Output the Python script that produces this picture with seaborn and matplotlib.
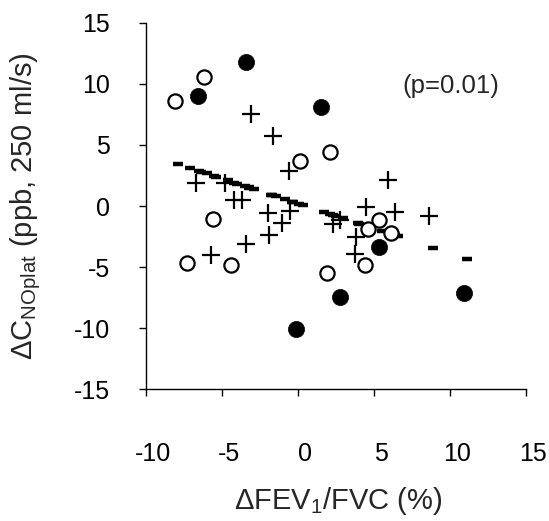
import matplotlib
matplotlib.use("Agg")
import matplotlib.pyplot as plt
import matplotlib.transforms as mtransforms
import seaborn as sns
import pandas as pd

# Filled circles
filled_x = [-6.6, -3.4, 1.5, -0.15, 2.75, 5.35, 10.9]
filled_y = [9.0, 11.75, 8.1, -10.05, -7.45, -3.35, -7.1]

# Open circles
open_x = [-8.1, -6.2, 0.15, 2.1, -5.6, -7.3, -4.4, 1.9, 5.35, 4.6, 6.15, 4.4]
open_y = [8.6, 10.55, 3.7, 4.4, -1.05, -4.65, -4.85, -5.45, -1.15, -1.85, -2.2, -4.8]

# Plus markers
plus_x = [-3.1, -1.65, -0.6, -6.7, -4.8, -4.2, -3.7, -2.0, -0.55, -1.05, -1.9,
          -3.45, -5.75, 2.3, 2.75, 5.95, 4.5, 6.35, 8.65, 3.8, 3.75]
plus_y = [7.5, 5.75, 2.9, 1.85, 1.85, 0.5, 0.5, -0.6, -0.45, -1.4, -2.35,
          -3.1, -4.05, -1.5, -1.15, 2.1, -0.1, -0.5, -0.8, -2.5, -3.95]

# Dash markers (fitted values)
dash_x = [-7.9, -7.1, -6.5, -6.4, -6.0, -5.55, -5.4, -4.6, -4.2, -4.0, -3.5,
          -3.25, -3.2, -2.9, -1.8, -1.7, -1.45, -0.85, -0.4, -0.35, 0.05, 0.35,
          1.7, 2.1, 2.3, 2.5, 2.95, 3.95, 4.0, 4.6, 4.7, 4.8, 5.55, 6.15, 6.35,
          6.55, 8.85, 11.1]
dash_y = [3.44, 3.11, 2.87, 2.82, 2.66, 2.48, 2.41, 2.09, 1.92, 1.84, 1.64,
          1.53, 1.51, 1.39, 0.94, 0.90, 0.79, 0.55, 0.36, 0.34, 0.18, 0.06,
          -0.50, -0.66, -0.74, -0.83, -1.01, -1.42, -1.44, -1.69, -1.73, -1.77,
          -2.08, -2.32, -2.40, -2.49, -3.43, -4.35]

x_ticks = [-10, -5, 0, 5, 10, 15]
y_ticks = [-15, -10, -5, 0, 5, 10, 15]

sns.set_style("white")
plt.rcParams['font.family'] = ['Liberation Sans', 'DejaVu Sans']
plt.rcParams['mathtext.default'] = 'regular'

fig = plt.figure(figsize=(5.49, 5.21), dpi=100)
ax = fig.add_axes([146/549, 1-389.3/521, (526-146)/549, (389.3-22.7)/521])

sns.scatterplot(x=dash_x, y=dash_y, marker='_', s=60, color='black',
                linewidth=3.2, ax=ax, zorder=2)
sns.scatterplot(x=plus_x, y=plus_y, marker='+', s=180, color='black',
                linewidth=1.6, ax=ax, zorder=3)
sns.scatterplot(x=open_x, y=open_y, marker='o', s=105, facecolor='white',
                edgecolor='black', linewidth=1.6, ax=ax, zorder=4)
sns.scatterplot(x=filled_x, y=filled_y, marker='o', s=135, color='black',
                edgecolor='black', linewidth=0.5, ax=ax, zorder=5)

ax.set_xlim(-10, 15)
ax.set_ylim(-15, 15)
ax.set_xticks(x_ticks)
ax.set_yticks(y_ticks)
ax.set_xticklabels([str(t) for t in x_ticks])
ax.set_yticklabels([str(t) for t in y_ticks])

for s in ['top', 'right']:
    ax.spines[s].set_visible(False)
for s in ['left', 'bottom']:
    ax.spines[s].set_color('black')
    ax.spines[s].set_linewidth(1.0)

ax.tick_params(axis='both', direction='out', length=5, width=1.0, color='black',
               labelsize=18, labelcolor='black')
ax.tick_params(axis='x', pad=33, bottom=True)
ax.tick_params(axis='y', pad=21, left=True)

offset = mtransforms.ScaledTranslation(7/100, 0, fig.dpi_scale_trans)
for lab in ax.get_xticklabels():
    lab.set_transform(lab.get_transform() + offset)

ax.set_xlabel(r'$\Delta$FEV$_{1}$/FVC (%)', fontsize=21)
ax.set_ylabel(r'$\Delta$C$_{NOplat}$ (ppb, 250 ml/s)', fontsize=21)
ax.xaxis.set_label_coords(0.5 + (338-336)/380, -0.262)
ax.yaxis.set_label_coords(-0.272, 0.5)

ax.text(10.06, 9.84, '(p=0.01)', fontsize=18.5, ha='center', va='center')

fig.savefig('out.png', dpi=100)
